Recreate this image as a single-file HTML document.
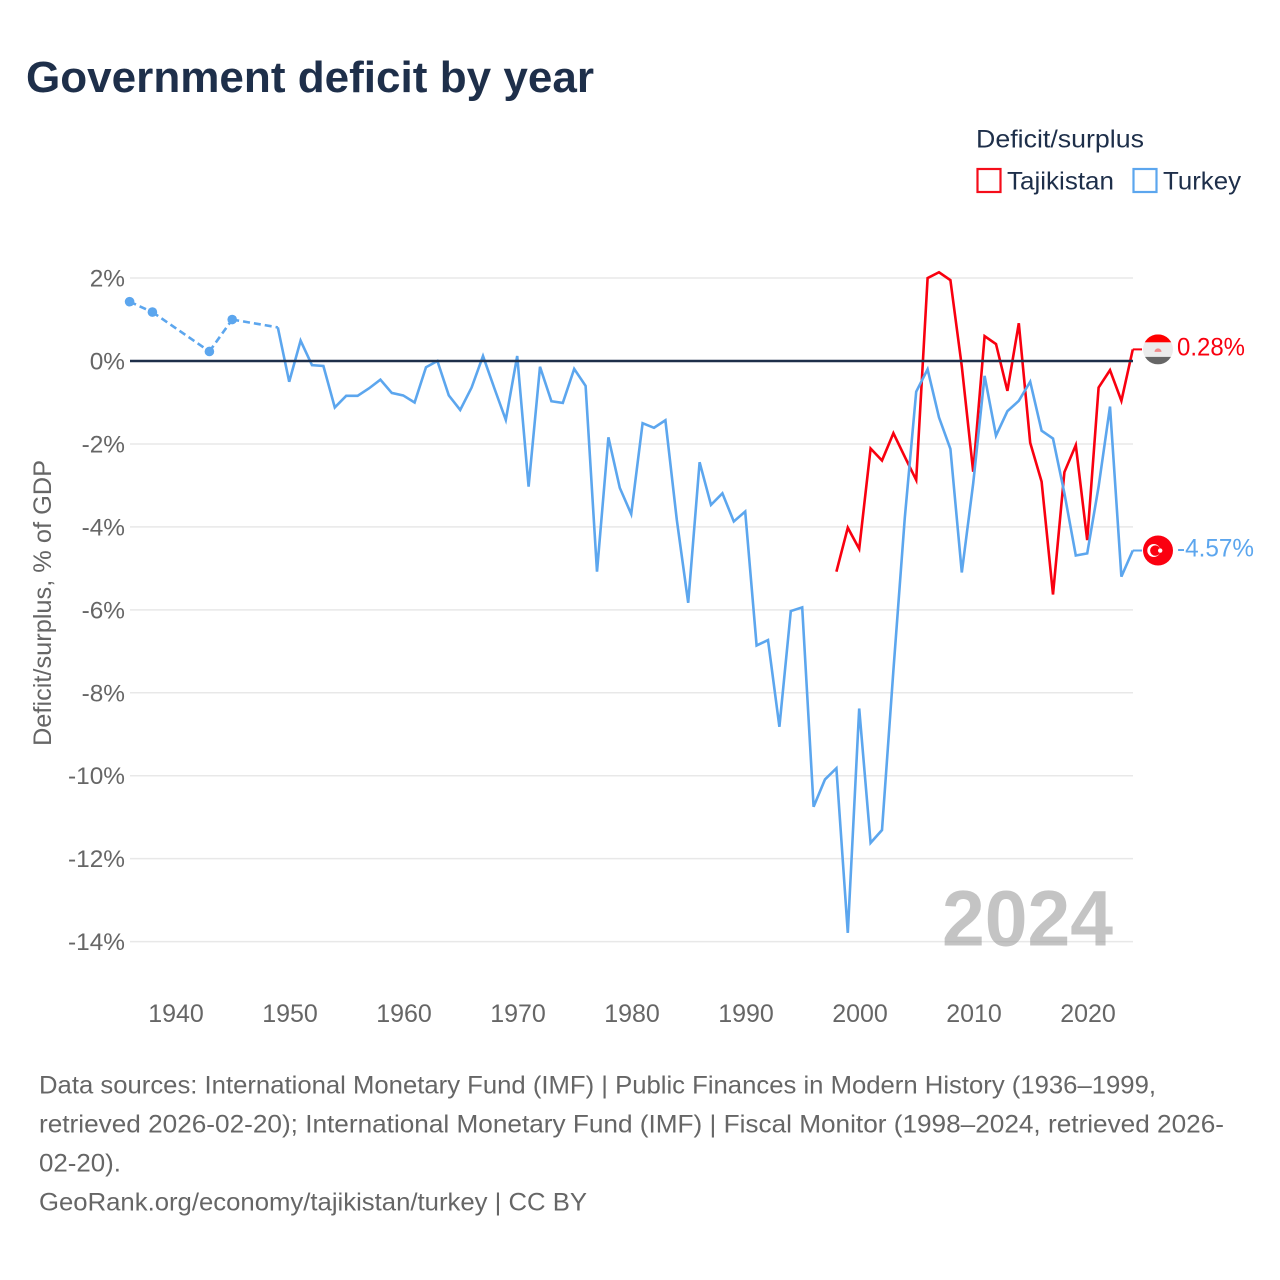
<!DOCTYPE html>
<html lang="en">
<head>
<meta charset="utf-8">
<title>Government deficit by year</title>
<style>
  html, body { margin: 0; padding: 0; background: #ffffff; }
  #chart { display: block; width: 1280px; height: 1280px; font-family: "Liberation Sans", sans-serif; }
</style>
</head>
<body>
<svg id="chart" xmlns="http://www.w3.org/2000/svg" width="1280" height="1280" viewBox="0 0 1280 1280">
  <rect x="0" y="0" width="1280" height="1280" fill="#ffffff"/>
  <text x="26" y="92" font-size="44" font-weight="700" fill="#1e2f4a" textLength="568" lengthAdjust="spacingAndGlyphs">Government deficit by year</text>

  <g>
    <text x="976" y="147.5" font-size="25" fill="#1e2f4a" textLength="168" lengthAdjust="spacingAndGlyphs">Deficit/surplus</text>
    <rect x="977.5" y="169" width="23" height="23" fill="none" stroke="#f50d1a" stroke-width="2.2"/>
    <text x="1007" y="189.5" font-size="25" fill="#1e2f4a" textLength="107" lengthAdjust="spacingAndGlyphs">Tajikistan</text>
    <rect x="1133.5" y="169" width="23" height="23" fill="none" stroke="#5ca6ee" stroke-width="2.2"/>
    <text x="1163" y="189.5" font-size="25" fill="#1e2f4a" textLength="78" lengthAdjust="spacingAndGlyphs">Turkey</text>
  </g>

  <g id="grid"></g>
  <text x="942" y="945.5" font-size="79" font-weight="700" fill="#999999" fill-opacity="0.58" textLength="171" lengthAdjust="spacingAndGlyphs">2024</text>
  <g id="y-axis"></g>
  <g id="x-axis"></g>
  <text transform="translate(51,603) rotate(-90)" text-anchor="middle" font-size="25" fill="#666666" textLength="286" lengthAdjust="spacingAndGlyphs">Deficit/surplus, % of GDP</text>
  <g id="series"></g>
  <g id="end-labels"></g>

  <g font-size="25" fill="#666666">
    <text x="39" y="1093.5" textLength="1117" lengthAdjust="spacingAndGlyphs">Data sources: International Monetary Fund (IMF) | Public Finances in Modern History (1936–1999,</text>
    <text x="39" y="1132.5" textLength="1185" lengthAdjust="spacingAndGlyphs">retrieved 2026-02-20); International Monetary Fund (IMF) | Fiscal Monitor (1998–2024, retrieved 2026-</text>
    <text x="39" y="1171.5" textLength="82" lengthAdjust="spacingAndGlyphs">02-20).</text>
    <text x="39" y="1210.5" textLength="548" lengthAdjust="spacingAndGlyphs">GeoRank.org/economy/tajikistan/turkey | CC BY</text>
  </g>
</svg>

<script>
const turkeyYears = [1936,1938,1943,1945,1949,1950,1951,1952,1953,1954,1955,1956,1957,1958,1959,1960,1961,1962,1963,1964,1965,1966,1967,1968,1969,1970,1971,1972,1973,1974,1975,1976,1977,1978,1979,1980,1981,1982,1983,1984,1985,1986,1987,1988,1989,1990,1991,1992,1993,1994,1995,1996,1997,1998,1999,2000,2001,2002,2003,2004,2005,2006,2007,2008,2009,2010,2011,2012,2013,2014,2015,2016,2017,2018,2019,2020,2021,2022,2023,2024];
const turkeyValues = [1.43,1.18,0.23,1.0,0.81,-0.5,0.49,-0.1,-0.12,-1.12,-0.84,-0.84,-0.66,-0.45,-0.77,-0.83,-1.0,-0.15,0.0,-0.83,-1.18,-0.64,0.12,-0.66,-1.42,0.12,-3.03,-0.14,-0.97,-1.01,-0.19,-0.6,-5.08,-1.84,-3.06,-3.69,-1.5,-1.61,-1.43,-3.83,-5.83,-2.44,-3.47,-3.19,-3.87,-3.63,-6.86,-6.73,-8.82,-6.03,-5.94,-10.75,-10.09,-9.82,-13.79,-8.38,-11.62,-11.31,-7.46,-3.78,-0.74,-0.2,-1.36,-2.12,-5.1,-2.95,-0.36,-1.8,-1.21,-0.96,-0.5,-1.68,-1.87,-3.19,-4.69,-4.64,-3.03,-1.1,-5.2,-4.57];
const tajikistanYears = [1998,1999,2000,2001,2002,2003,2004,2005,2006,2007,2008,2009,2010,2011,2012,2013,2014,2015,2016,2017,2018,2019,2020,2021,2022,2023,2024];
const tajikistanValues = [-5.08,-4.02,-4.53,-2.11,-2.4,-1.74,-2.31,-2.87,2.0,2.14,1.95,-0.13,-2.67,0.6,0.41,-0.72,0.91,-1.97,-2.91,-5.63,-2.68,-2.03,-4.32,-0.64,-0.22,-0.96,0.28];
const yTicks = [2,0,-2,-4,-6,-8,-10,-12,-14];
const xTicks = [1940,1950,1960,1970,1980,1990,2000,2010,2020];

const NS = 'http://www.w3.org/2000/svg';
const PLOT_LEFT = 130;
const PLOT_RIGHT = 1133;
const RED = '#f9000f';
const BLUE = '#5ca6ee';

function xScale(year) { return 175.2 + (year - 1940) * 11.4; }
function yScale(value) { return 361 - value * 41.47; }

function make(tag, attrs, parent) {
  const el = document.createElementNS(NS, tag);
  for (const k in attrs) el.setAttribute(k, attrs[k]);
  parent.appendChild(el);
  return el;
}
function pointsOf(pairs) {
  return pairs.map(function (p) { return xScale(p[0]).toFixed(2) + ',' + yScale(p[1]).toFixed(2); }).join(' ');
}

const grid = document.getElementById('grid');
const yAxis = document.getElementById('y-axis');
const xAxis = document.getElementById('x-axis');
const seriesGroup = document.getElementById('series');
const endLabels = document.getElementById('end-labels');

yTicks.forEach(function (t) {
  if (t !== 0) {
    const line = make('line', { x1: PLOT_LEFT, x2: PLOT_RIGHT, y1: yScale(t), y2: yScale(t), stroke: '#e8e8e8', 'stroke-width': 1.5 }, grid);
    
    
  }
  const label = make('text', { x: 125, y: yScale(t) + 8.5, 'text-anchor': 'end', 'font-size': 24.4, fill: '#666666' }, yAxis);
  label.textContent = t + '%';
  
  
});

xTicks.forEach(function (t) {
  const label = make('text', { x: xScale(t) + 0.8, y: 1022, 'text-anchor': 'middle', 'font-size': 25, fill: '#666666' }, xAxis);
  label.textContent = String(t);
  
  
});

function drawSeries(name, years, values, color) {
  const group = make('g', {}, seriesGroup);
  
  

  let run = [];
  const runs = [];
  years.forEach(function (yr, i) {
    if (i > 0 && yr - years[i - 1] > 1) {
      runs.push(run);
      run = [];
      const dash = make('polyline', { points: pointsOf([[years[i - 1], values[i - 1]], [yr, values[i]]]), fill: 'none', stroke: color, 'stroke-width': 2.6, 'stroke-dasharray': '7 4' }, group);
      
      
    }
    run.push([yr, values[i]]);
  });
  runs.push(run);

  runs.forEach(function (r) {
    if (r.length === 1) {
      const dot = make('circle', { cx: xScale(r[0][0]), cy: yScale(r[0][1]), r: 4.8, fill: color }, group);
      
      
    } else {
      const line = make('polyline', { points: pointsOf(r), fill: 'none', stroke: color, 'stroke-width': 2.6, 'stroke-linejoin': 'miter' }, group);
      
      
    }
  });
}

drawSeries('tajikistan', tajikistanYears, tajikistanValues, RED);
drawSeries('turkey', turkeyYears, turkeyValues, BLUE);

const zeroLine = make('line', { x1: PLOT_LEFT, x2: PLOT_RIGHT, y1: yScale(0), y2: yScale(0), stroke: '#1e2f4a', 'stroke-width': 2.5 }, seriesGroup);



function endLabel(name, years, values, color) {
  const lastYear = years[years.length - 1];
  const lastValue = values[values.length - 1];
  const cy = yScale(lastValue);
  const connector = make('line', { x1: xScale(lastYear), x2: 1142, y1: cy, y2: cy, stroke: color, 'stroke-width': 2 }, endLabels);
  
  
  const text = make('text', { x: 1177, y: cy + 6, 'font-size': 25, fill: color, textLength: lastValue < 0 ? 77 : 68, lengthAdjust: 'spacingAndGlyphs' }, endLabels);
  text.textContent = lastValue.toFixed(2) + '%';
  
  
  return cy;
}

const tjY = endLabel('tajikistan', tajikistanYears, tajikistanValues, RED);
const trY = endLabel('turkey', turkeyYears, turkeyValues, BLUE);
const FLAG_X = 1158;

const defs = make('defs', {}, endLabels);
const clip = make('clipPath', { id: 'tj-clip' }, defs);
make('circle', { cx: FLAG_X, cy: tjY, r: 15 }, clip);

const tjFlag = make('g', { 'clip-path': 'url(#tj-clip)' }, endLabels);


make('rect', { x: FLAG_X - 15, y: tjY - 15, width: 30, height: 8, fill: '#ff0000' }, tjFlag);
make('rect', { x: FLAG_X - 15, y: tjY - 7, width: 30, height: 14.5, fill: '#ececec' }, tjFlag);
make('rect', { x: FLAG_X - 15, y: tjY + 7.5, width: 30, height: 7.5, fill: '#666666' }, tjFlag);
make('path', { d: 'M' + (FLAG_X - 3.5) + ' ' + (tjY + 2.5) + 'a3.5 3.5 0 0 1 7 0z', fill: '#f08a8a' }, tjFlag);

const trFlag = make('g', {}, endLabels);


make('circle', { cx: FLAG_X, cy: trY, r: 15, fill: '#fb0010' }, trFlag);
make('circle', { cx: FLAG_X - 4.2, cy: trY, r: 6.5, fill: '#ffffff' }, trFlag);
make('circle', { cx: FLAG_X - 2.7, cy: trY, r: 5.2, fill: '#fb0010' }, trFlag);
make('circle', { cx: FLAG_X + 2.2, cy: trY, r: 2.2, fill: '#ffffff' }, trFlag);
</script>
</body>
</html>
